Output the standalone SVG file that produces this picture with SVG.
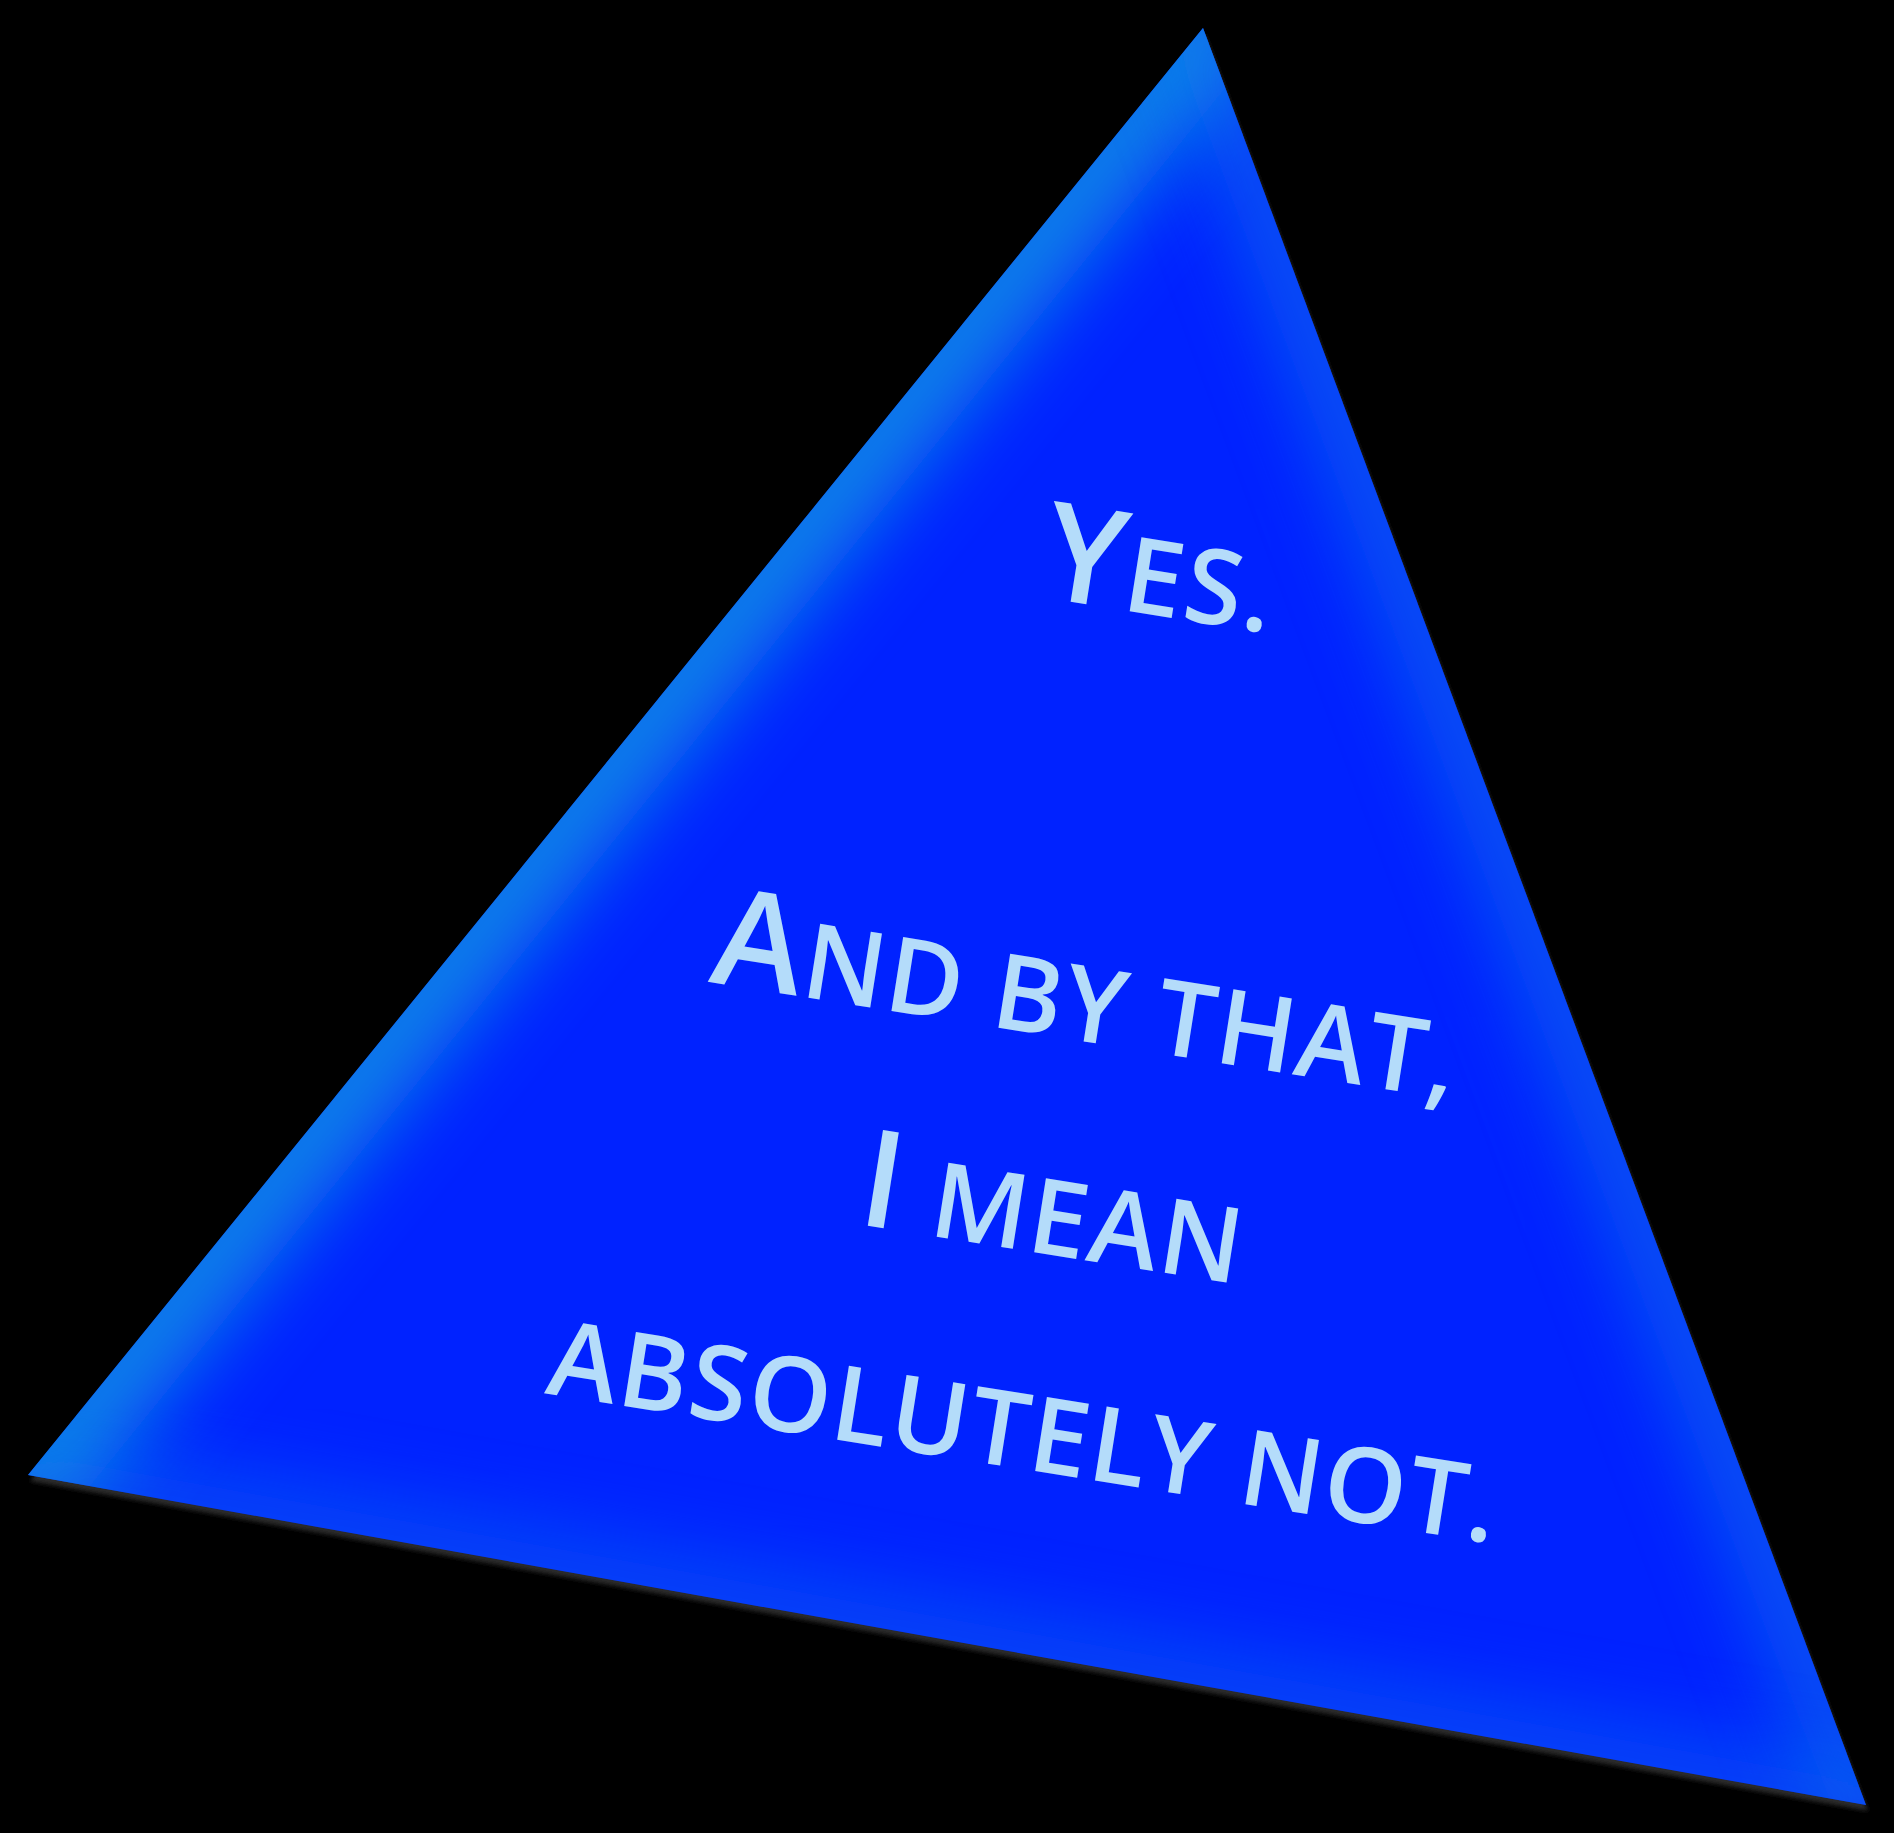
<svg xmlns="http://www.w3.org/2000/svg" width="1894" height="1833" viewBox="0 0 1894 1833">
  <style>
    .msg { font-family: "Open Sans", "Noto Sans", "DejaVu Sans", sans-serif; font-weight: 600; fill: #b4dcfa; text-anchor: middle; letter-spacing: 2px; }
    .cap { font-size: 136px; }
    .sc { font-size: 105px; }
  </style>
  <defs>
    <clipPath id="triClip">
      <polygon points="1203,28 28,1475 1866,1805"/>
    </clipPath>
    <filter id="glowBlur" x="-20%" y="-20%" width="140%" height="140%">
      <feGaussianBlur stdDeviation="40"/>
    </filter>
    <filter id="shadowBlur" x="-5%" y="-5%" width="110%" height="110%">
      <feGaussianBlur stdDeviation="2"/>
    </filter>
  </defs>
  <rect x="0" y="0" width="1894" height="1833" fill="#000000"/>
  <g id="triangle">
    <polygon points="1205,34 30,1481 1868,1811" fill="#2a2a2a" filter="url(#shadowBlur)"/>
    <polygon points="1203,28 28,1475 1866,1805" fill="#0022ff"/>
    <g clip-path="url(#triClip)">
      <line x1="28" y1="1475" x2="1203" y2="28" stroke="#0a84e8" stroke-width="110" stroke-linecap="round" filter="url(#glowBlur)"/>
      <line x1="1203" y1="28" x2="1866" y2="1805" stroke="#0a84e8" stroke-width="70" stroke-linecap="round" opacity="0.6" filter="url(#glowBlur)"/>
      <line x1="28" y1="1475" x2="1866" y2="1805" stroke="#0a84e8" stroke-width="60" stroke-linecap="round" opacity="0.5" filter="url(#glowBlur)"/>
    </g>
  </g>
  <g id="message" transform="rotate(9)">
    <text class="msg" x="1236" y="427"><tspan class="cap">Y</tspan><tspan class="sc">ES.</tspan></text>
    <text class="msg" x="1230" y="859"><tspan class="cap">A</tspan><tspan class="sc">ND BY THAT,</tspan></text>
    <text class="msg" x="1230" y="1075"><tspan class="cap">I</tspan><tspan class="sc"> MEAN</tspan></text>
    <text class="msg" x="1236" y="1291"><tspan class="sc">ABSOLUTELY NOT.</tspan></text>
  </g>
</svg>
